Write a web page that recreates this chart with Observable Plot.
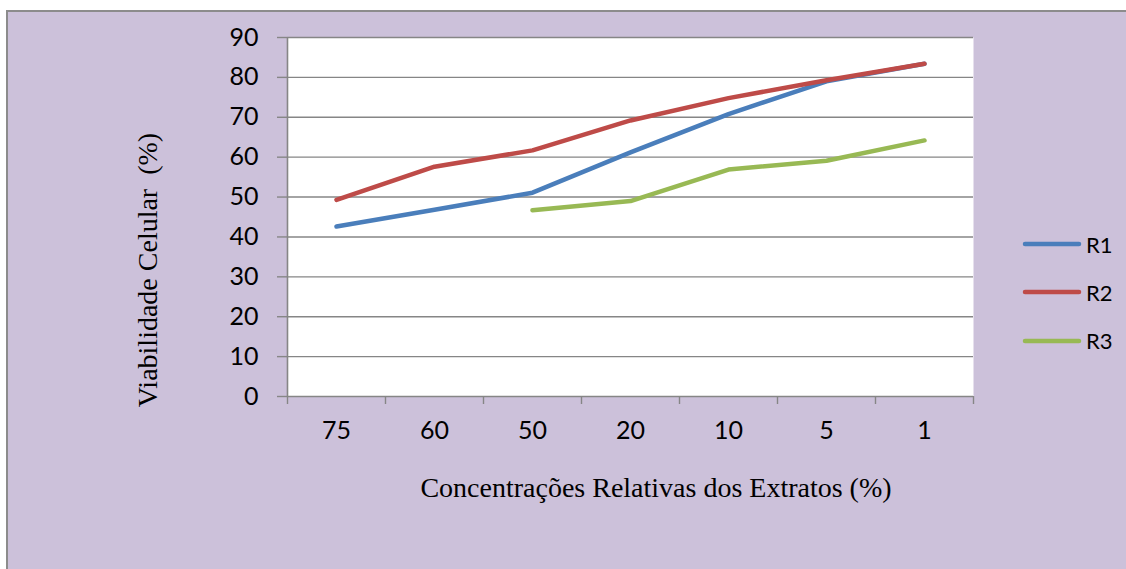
<!DOCTYPE html>
<html><head><meta charset="utf-8">
<script src="https://cdn.jsdelivr.net/npm/d3@7"></script>
<script src="https://cdn.jsdelivr.net/npm/@observablehq/plot@0.6"></script>
<style>
html,body{margin:0;padding:0;background:#fff;}
#wrap{position:relative;width:1126px;height:569px;overflow:hidden;}
#bg{position:absolute;left:6px;top:10px;width:1200px;height:600px;background:#CCC1DA;border-left:2px solid #8c8c8c;border-top:2px solid #8c8c8c;}
#chart{position:absolute;left:0;top:0;}
.ytitle{position:absolute;left:148px;top:270px;transform:translate(-50%,-50%) rotate(-90deg);font-family:"Liberation Serif","Times New Roman",serif;font-size:28px;white-space:pre;color:#000;}
.xtitle{position:absolute;left:656px;top:488px;transform:translate(-50%,-50%);font-family:"Liberation Serif","Times New Roman",serif;font-size:28px;white-space:pre;color:#000;}
#legend{position:absolute;left:1022px;top:220px;font-family:Lato,"Open Sans",sans-serif;font-size:22px;color:#000;}
#legend .item{display:flex;align-items:center;height:48.3px;}
#legend svg{display:block;margin-right:4px;}
</style>
</head><body>
<div id="wrap">
  <div id="bg"></div>
  <div id="chart"></div>
  <div class="ytitle">Viabilidade Celular  (%)</div>
  <div class="xtitle">Concentrações Relativas dos Extratos (%)</div>
  <div id="legend"></div>
</div>
<script>
const categories = ["75", "60", "50", "20", "10", "5", "1"];
const seriesNames = ["R1", "R2", "R3"];
const r1 = [42.6, 46.8, 51.1, 61.2, 70.8, 79.0, 83.4];
const r2 = [49.3, 57.6, 61.7, 69.2, 74.8, 79.3, 83.4];
const r3 = [null, null, 46.7, 49.0, 56.9, 59.1, 64.2];
const seriesColors = ["#4A7EBB", "#BE4B48", "#98B954"];
const yTicks = [0, 10, 20, 30, 40, 50, 60, 70, 80, 90];

const seriesValues = [r1, r2, r3];
const data = [];
seriesNames.forEach((s, si) => {
  seriesValues[si].forEach((v, i) => {
    if (v != null) data.push({series: s, idx: i + 0.5, value: v});
  });
});
const boundaries = d3.range(categories.length + 1);
const centers = categories.map((c, i) => i + 0.5);

const gridColor = "#868686";
const plot = Plot.plot({
  width: 1126,
  height: 569,
  marginLeft: 287,
  marginRight: 153,
  marginTop: 37,
  marginBottom: 173,
  style: {background: "transparent", fontFamily: "Lato, 'Open Sans', sans-serif", fontSize: "25px", color: "#000"},
  x: {type: "linear", domain: [0, categories.length]},
  y: {domain: [0, 90]},
  color: {domain: seriesNames, range: seriesColors},
  marks: [
    Plot.frame({fill: "white", stroke: "none"}),
    Plot.ruleY(yTicks.filter(d => d > 0), {stroke: gridColor, strokeWidth: 1.4}),
    Plot.ruleY([0], {stroke: gridColor, strokeWidth: 1.6}),
    Plot.ruleX([0], {stroke: gridColor, strokeWidth: 1.6}),
    Plot.axisY({ticks: yTicks, tickSize: 10, tickPadding: 19, stroke: gridColor, strokeWidth: 1.4, label: null, fill: "#000"}),
    Plot.axisX({ticks: boundaries, tickSize: 8, tickFormat: () => "", stroke: gridColor, strokeWidth: 1.4, label: null}),
    Plot.axisX({ticks: centers, tickSize: 0, tickPadding: 25, tickFormat: d => categories[Math.round(d - 0.5)], label: null, fill: "#000"}),
    Plot.line(data, {x: "idx", y: "value", z: "series", stroke: "series", strokeWidth: 4.5, strokeLinecap: "round", strokeLinejoin: "round"})
  ]
});
document.getElementById("chart").appendChild(plot);

const legend = document.getElementById("legend");
seriesNames.forEach((s, i) => {
  const item = document.createElement("div");
  item.className = "item";
  item.innerHTML = `<svg width="60" height="10"><line x1="3" y1="5" x2="57" y2="5" stroke="${seriesColors[i]}" stroke-width="4.5" stroke-linecap="round"/></svg><span>${s}</span>`;
  legend.appendChild(item);
});
</script>
</body></html>
